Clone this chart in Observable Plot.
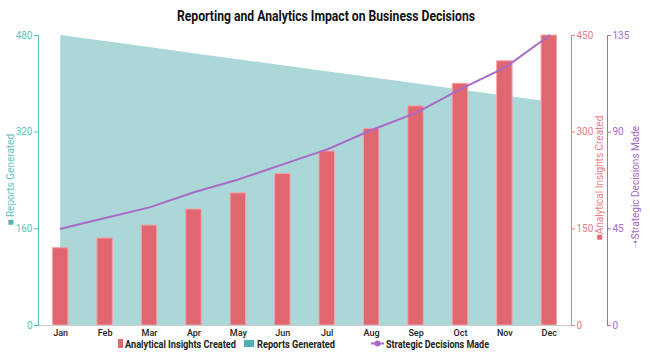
<!DOCTYPE html>
<html><head><meta charset="utf-8">
<script src="https://cdn.jsdelivr.net/npm/d3@7"></script>
<script src="https://cdn.jsdelivr.net/npm/@observablehq/plot@0.6"></script>
<style>
body{margin:0;background:#fff;}
#wrap{position:relative;width:650px;height:360px;overflow:hidden;font-family:Roboto,sans-serif;}
#title{position:absolute;top:0;left:0;}
#chart{position:absolute;top:26px;left:0;}
#legend{position:absolute;top:336px;left:0;}
</style></head>
<body>
<div id="wrap">
  <svg id="title" width="650" height="26"><text x="326" y="21" text-anchor="middle" font-family="Roboto" font-weight="bold" font-size="14" fill="#111" textLength="298" lengthAdjust="spacingAndGlyphs">Reporting and Analytics Impact on Business Decisions</text></svg>
  <div id="chart"></div>
  <svg id="legend" width="650" height="20">
    <rect x="118" y="3" width="5" height="9" fill="#e0676f"/>
    <text x="125" y="12" font-family="Roboto" font-weight="bold" font-size="11" fill="#222" textLength="111" lengthAdjust="spacingAndGlyphs">Analytical Insights Created</text>
    <rect x="244" y="4" width="10" height="7" fill="#4fb0b0"/>
    <text x="257" y="12" font-family="Roboto" font-weight="bold" font-size="11" fill="#222" textLength="78" lengthAdjust="spacingAndGlyphs">Reports Generated</text>
    <line x1="371" y1="7.5" x2="384" y2="7.5" stroke="#a86ac6" stroke-width="2"/>
    <circle cx="377.5" cy="7.5" r="3" fill="#a86ac6"/>
    <text x="386" y="12" font-family="Roboto" font-weight="bold" font-size="11" fill="#222" textLength="103" lengthAdjust="spacingAndGlyphs">Strategic Decisions Made</text>
  </svg>
</div>
<script>
const months = ["Jan","Feb","Mar","Apr","May","Jun","Jul","Aug","Sep","Oct","Nov","Dec"];
const reports = [480,470,460,450,440,430,420,410,400,390,380,370];
const insights = [120,135,155,180,205,235,270,305,340,375,410,450];
const decisions = [45,50,55,62,68,75,82,91,99,110,120,135];
const reportTicks = [0,160,320,480];
const insightTicks = [0,150,300,450];
const decisionTicks = [0,45,90,135];

const teal = "#5fbfbf", red = "#ee7b83", purple = "#a86ac6";
const sy1 = 480/450, sy2 = 480/135;
const data = months.map((m,i)=>({month:m, reports:reports[i], insights:insights[i], decisions:decisions[i]}));

const chart = Plot.plot({
  width:650, height:314, marginTop:9, marginBottom:15, marginLeft:38, marginRight:79,
  style:{fontFamily:"Roboto, sans-serif", fontSize:"10px", background:"white", overflow:"visible"},
  x:{type:"band", domain:months, padding:0, round:false},
  y:{domain:[0,480]},
  marks:[
    Plot.areaY(data,{x:"month", y:"reports", fill:"#acd7d8"}),
    Plot.barY(data,{x:"month", y:d=>d.insights*sy1, fill:"#e0676f", stroke:"#f0a3a8", strokeWidth:1, insetLeft:14.5, insetRight:14.5}),
    Plot.lineY(data,{x:"month", y:d=>d.decisions*sy2, stroke:purple, strokeWidth:2}),
    Plot.frame({anchor:"bottom", stroke:"#cccccc"}),
    Plot.frame({anchor:"left", stroke:teal}),
    Plot.frame({anchor:"right", stroke:red}),
    Plot.frame({anchor:"right", stroke:purple, dx:36}),
    Plot.axisX({tickSize:0, tickPadding:4, fontSize:9, fill:"#222", fontWeight:500, label:null}),
    Plot.axisY({anchor:"left", ticks:reportTicks, tickSize:4, tickPadding:2, color:teal, fontSize:10, label:null}),
    Plot.axisY({anchor:"right", ticks:insightTicks.map(v=>v*sy1), tickFormat:d=>Math.round(d/sy1), tickSize:3, tickPadding:2, color:red, fontSize:10, label:null}),
    Plot.axisY({anchor:"right", ticks:decisionTicks.map(v=>v*sy2), tickFormat:d=>Math.round(d/sy2), tickSize:3, tickPadding:2, dx:36, color:purple, fontSize:10, label:null}),
    Plot.text(["Reports Generated"],{text:d=>d, frameAnchor:"left", rotate:-90, dx:-28, dy:-5, fill:teal, fontSize:10, textAnchor:"middle"}),
    Plot.text(["■"],{text:d=>d, frameAnchor:"left", dx:-28, dy:41, fill:"#4fb0b0", fontSize:10, textAnchor:"middle"}),
    Plot.text(["Analytical Insights Created"],{text:d=>d, frameAnchor:"right", rotate:-90, dx:28, dy:-5.5, fill:red, fontSize:10, textAnchor:"middle"}),
    Plot.text(["■"],{text:d=>d, frameAnchor:"right", dx:28, dy:56.5, fill:"#e0676f", fontSize:10, textAnchor:"middle"}),
    Plot.text(["Strategic Decisions Made"],{text:d=>d, frameAnchor:"right", rotate:-90, dx:64, dy:2, fill:purple, fontSize:10, textAnchor:"middle"}),
    Plot.text(["─●─"],{text:d=>d, frameAnchor:"right", rotate:-90, dx:64, dy:61.5, fill:purple, fontSize:6, textAnchor:"middle"})
  ]
});
document.getElementById("chart").appendChild(chart);
</script>
</body></html>
